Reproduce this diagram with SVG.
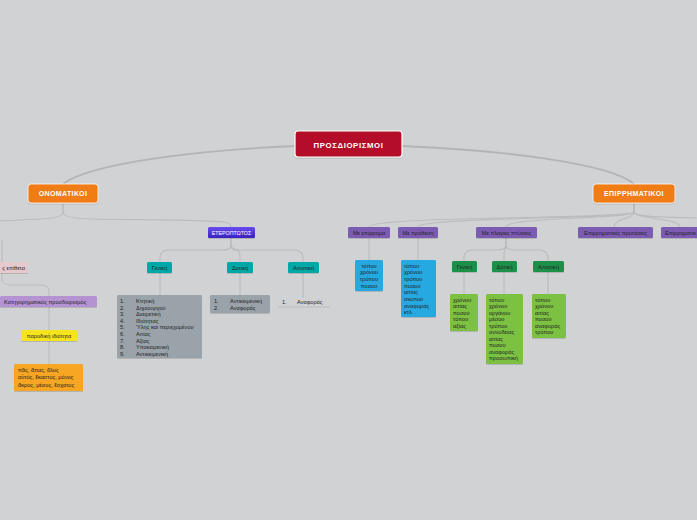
<svg xmlns="http://www.w3.org/2000/svg" width="697" height="520" viewBox="0 0 697 520">
<defs>
<filter id="sh" x="-10%" y="-20%" width="120%" height="150%">
<feDropShadow dx="0" dy="0.6" stdDeviation="0.6" flood-color="#000" flood-opacity="0.25"/>
</filter>
<linearGradient id="ete" x1="0" y1="0" x2="0" y2="1">
<stop offset="0" stop-color="#6a4cf0"/>
<stop offset="1" stop-color="#3a1fc0"/>
</linearGradient>
</defs>
<style>
text{font-family:"Liberation Sans","DejaVu Sans",sans-serif;}
.c{fill:none;stroke:#bbbcbe;stroke-width:1.1;}
.cm{fill:none;stroke:#b3b4b6;stroke-width:1.8;}
.big{font-weight:bold;fill:#fff;text-anchor:middle;}
.s{font-size:5.6px;fill:#222;}
.sm{font-size:5.6px;fill:#222;text-anchor:middle;}
.w{font-size:5.3px;fill:#fff;text-anchor:middle;}
.b{filter:url(#sh);}
</style>
<rect width="697" height="520" fill="#d1d2d4"/>

<g id="connectors">
<path class="cm" d="M295,146 C200,150 90,163 63,184"/>
<path class="cm" d="M402,146 C500,150 610,163 634,184"/>
<path class="c" d="M63,203 L63,213 Q62,218 40,219 L0,221"/>
<path class="c" d="M63,203 L63,213 Q64,218 90,219 C150,220 210,220 224,222 Q231,223 231,227"/>
<path class="c" d="M2,240 L2,262"/>
<path class="c" d="M2,273 L2,280 Q3,285 12,285 L42,285 Q49,285 49,292 L49,296"/>
<path class="c" d="M49,307 L49,330"/>
<path class="c" d="M49,341 L49,364"/>
<path class="c" d="M231,238 L231,246 Q230,250 222,250 L168,250 Q160,251 160,258 L160,262"/>
<path class="c" d="M231,238 L231,246 Q232,250 236,250 Q240,251 240,256 L240,262"/>
<path class="c" d="M231,238 L231,246 Q232,250 240,250 L295,250 Q303,251 303,258 L303,262"/>
<path class="c" d="M160,273 L160,295"/>
<path class="c" d="M240,273 L240,295"/>
<path class="c" d="M303,273 L303,298"/>
<path class="c" d="M634,203 L634,212 C634,219 369,216 369,227"/>
<path class="c" d="M634,203 L634,212 C634,219 418,217 418,227"/>
<path class="c" d="M634,203 L634,212 C634,219 506,217 506,227"/>
<path class="c" d="M634,203 L634,212 C634,219 614,218 614,227"/>
<path class="c" d="M634,203 L634,212 C634,219 680,218 680,227"/>
<path class="c" d="M634,203 L634,212 C634,219 697,217 697,218"/>
<path class="c" d="M369,238 L369,260"/>
<path class="c" d="M418,238 L418,260"/>
<path class="c" d="M506,238 L506,246 Q505,250 497,250 L472,250 Q464,251 464,258 L464,261"/>
<path class="c" d="M506,238 L506,246 Q505,250 504,253 L504,261"/>
<path class="c" d="M506,238 L506,246 Q507,250 515,250 L540,250 Q548,251 548,258 L548,261"/>
<path class="c" d="M464,272 L464,294"/>
<path class="c" d="M504,272 L504,294"/>
<path class="c" d="M548,272 L548,294"/>
<path class="c" d="M278,307 L330,307"/>
</g>

<g id="root">
<rect class="b" x="295" y="131" width="107" height="26" rx="3" fill="#b3102b" stroke="#fff" stroke-width="1.2"/>
<text class="big" x="348.5" y="147.5" font-size="7.8" letter-spacing="0.6">ΠΡΟΣΔΙΟΡΙΣΜΟΙ</text>
</g>

<g id="onomatikoi">
<rect class="b" x="28" y="184" width="70" height="19" rx="3" fill="#f07b12" stroke="#fff" stroke-width="0.8"/>
<text class="big" x="63" y="196" font-size="7" letter-spacing="0.4">ΟΝΟΜΑΤΙΚΟΙ</text>
</g>

<g id="epirrimatikoi">
<rect class="b" x="593" y="184" width="82" height="19" rx="3" fill="#f07b12" stroke="#fff" stroke-width="0.8"/>
<text class="big" x="634" y="196" font-size="7" letter-spacing="0.4">ΕΠΙΡΡΗΜΑΤΙΚΟΙ</text>
</g>

<g id="eteroptotos">
<rect class="b" x="208" y="227" width="47" height="11" rx="1.5" fill="url(#ete)"/>
<text class="w" x="231.5" y="234.5" font-size="4.6">ΕΤΕΡΟΠΤΩΤΟΣ</text>
</g>

<g id="geniki1">
<rect class="b" x="147" y="262" width="25" height="11" rx="1.5" fill="#06a8a8"/>
<text class="sm" x="159.5" y="269.5">Γενική</text>
</g>
<g id="dotiki1">
<rect class="b" x="227" y="262" width="26" height="11" rx="1.5" fill="#06a8a8"/>
<text class="sm" x="240" y="269.5">Δοτική</text>
</g>
<g id="aitiatiki1">
<rect class="b" x="288" y="262" width="31" height="11" rx="1.5" fill="#06a8a8"/>
<text class="sm" x="303.5" y="269.5">Αιτιατική</text>
</g>

<g id="geniki1-list">
<rect class="b" x="117" y="295" width="85" height="63" rx="1.5" fill="#9aa3aa"/>
<text class="s" x="120" y="303">1.</text><text class="s" x="136" y="303">Κτητική</text>
<text class="s" x="120" y="309.6">2.</text><text class="s" x="136" y="309.6">Δημιουργού</text>
<text class="s" x="120" y="316.2">3.</text><text class="s" x="136" y="316.2">Διαιρετική</text>
<text class="s" x="120" y="322.8">4.</text><text class="s" x="136" y="322.8">Ιδιότητας</text>
<text class="s" x="120" y="329.4">5.</text><text class="s" x="136" y="329.4">Ύλης και περιεχομένου</text>
<text class="s" x="120" y="336">6.</text><text class="s" x="136" y="336">Αιτίας</text>
<text class="s" x="120" y="342.6">7.</text><text class="s" x="136" y="342.6">Αξίας</text>
<text class="s" x="120" y="349.2">8.</text><text class="s" x="136" y="349.2">Υποκειμενική</text>
<text class="s" x="120" y="355.8">9.</text><text class="s" x="136" y="355.8">Αντικειμενική</text>
</g>

<g id="dotiki1-list">
<rect class="b" x="210" y="295" width="60" height="18" rx="1.5" fill="#9aa3aa"/>
<text class="s" x="214" y="302.5">1.</text><text class="s" x="230" y="302.5">Αντικειμενική</text>
<text class="s" x="214" y="309.5">2.</text><text class="s" x="230" y="309.5">Αναφοράς</text>
</g>

<g id="aitiatiki1-list">
<text class="s" x="282" y="303.5">1.</text><text class="s" x="297" y="303.5">Αναφοράς</text>
</g>

<g id="epitheta">
<rect class="b" x="-40" y="262" width="68" height="11" rx="1.5" fill="#e6c9cd"/>
<text class="s" x="25" y="269.5" text-anchor="end">ς επίθετα</text>
</g>

<g id="katigorimatikos">
<rect class="b" x="0" y="296" width="97" height="11" rx="1.5" fill="#b592d2"/>
<text class="s" x="4" y="303.5">Κατηγορηματικός προσδιορισμός</text>
</g>

<g id="parodiki">
<rect class="b" x="21" y="330" width="56" height="11" rx="1.5" fill="#f6e41c"/>
<text class="sm" x="49" y="337.5">παροδική ιδιότητα</text>
</g>

<g id="pas">
<rect class="b" x="14" y="364" width="69" height="27" rx="1.5" fill="#f6a623"/>
<text class="s" x="18" y="371.5">πᾶς, ἅπας, ὅλος</text>
<text class="s" x="18" y="379">αὐτός, ἕκαστος, μόνος</text>
<text class="s" x="18" y="386.5">ἄκρος, μέσος, ἔσχατος</text>
</g>

<g id="me-epirrima">
<rect class="b" x="348" y="227" width="42" height="11" rx="1.5" fill="#7b5cb2"/>
<text class="sm" x="369" y="234.5">Με επίρρημα</text>
</g>
<g id="me-prothesi">
<rect class="b" x="398" y="227" width="40" height="11" rx="1.5" fill="#7b5cb2"/>
<text class="sm" x="418" y="234.5">Με πρόθεση</text>
</g>
<g id="me-plagies">
<rect class="b" x="476" y="227" width="61" height="11" rx="1.5" fill="#7b5cb2"/>
<text class="sm" x="506.5" y="234.5">Με πλάγιες πτώσεις</text>
</g>
<g id="epir-protaseis">
<rect class="b" x="578" y="227" width="75" height="11" rx="1.5" fill="#7b5cb2"/>
<text class="sm" x="615.5" y="234.5">Επιρρηματικές προτάσεις</text>
</g>
<g id="epir-other">
<rect class="b" x="661" y="227" width="50" height="11" rx="1.5" fill="#7b5cb2"/>
<text class="s" x="665" y="234.5">Επιρρηματικ</text>
</g>

<g id="epirrima-list">
<rect class="b" x="355" y="260" width="28" height="31" rx="1.5" fill="#27a9e1"/>
<text class="sm" x="369" y="267.5">τόπου</text>
<text class="sm" x="369" y="274.2">χρόνου</text>
<text class="sm" x="369" y="280.9">τρόπου</text>
<text class="sm" x="369" y="287.6">ποσού</text>
</g>

<g id="prothesi-list">
<rect class="b" x="401" y="260" width="35" height="57" rx="1.5" fill="#27a9e1"/>
<text class="s" x="404" y="267.5">τόπου</text>
<text class="s" x="404" y="274.2">χρόνου</text>
<text class="s" x="404" y="280.9">τρόπου</text>
<text class="s" x="404" y="287.6">ποσού</text>
<text class="s" x="404" y="294.3">αιτίας</text>
<text class="s" x="404" y="301">σκοπού</text>
<text class="s" x="404" y="307.7">αναφοράς</text>
<text class="s" x="404" y="314.4">κτλ.</text>
</g>

<g id="geniki2">
<rect class="b" x="452" y="261" width="25" height="11" rx="1.5" fill="#1a9048"/>
<text class="sm" x="464.5" y="268.5">Γενική</text>
</g>
<g id="dotiki2">
<rect class="b" x="492" y="261" width="25" height="11" rx="1.5" fill="#1a9048"/>
<text class="sm" x="504.5" y="268.5">Δοτική</text>
</g>
<g id="aitiatiki2">
<rect class="b" x="533" y="261" width="31" height="11" rx="1.5" fill="#1a9048"/>
<text class="sm" x="548.5" y="268.5">Αιτιατική</text>
</g>

<g id="geniki2-list">
<rect class="b" x="450" y="294" width="28" height="37" rx="1.5" fill="#7cc142"/>
<text class="s" x="453" y="301.5">χρόνου</text>
<text class="s" x="453" y="308">αιτίας</text>
<text class="s" x="453" y="314.5">ποσού</text>
<text class="s" x="453" y="321">τόπου</text>
<text class="s" x="453" y="327.5">αξίας</text>
</g>

<g id="dotiki2-list">
<rect class="b" x="486" y="294" width="37" height="70" rx="1.5" fill="#7cc142"/>
<text class="s" x="489" y="301.5">τόπου</text>
<text class="s" x="489" y="308">χρόνου</text>
<text class="s" x="489" y="314.5">οργάνου</text>
<text class="s" x="489" y="321">μέσου</text>
<text class="s" x="489" y="327.5">τρόπου</text>
<text class="s" x="489" y="334">συνοδείας</text>
<text class="s" x="489" y="340.5">αιτίας</text>
<text class="s" x="489" y="347">ποσού</text>
<text class="s" x="489" y="353.5">αναφοράς</text>
<text class="s" x="489" y="360">προσωπική</text>
</g>

<g id="aitiatiki2-list">
<rect class="b" x="532" y="294" width="34" height="44" rx="1.5" fill="#7cc142"/>
<text class="s" x="535" y="301.5">τόπου</text>
<text class="s" x="535" y="308">χρόνου</text>
<text class="s" x="535" y="314.5">αιτίας</text>
<text class="s" x="535" y="321">ποσού</text>
<text class="s" x="535" y="327.5">αναφοράς</text>
<text class="s" x="535" y="334">τρόπου</text>
</g>
</svg>
